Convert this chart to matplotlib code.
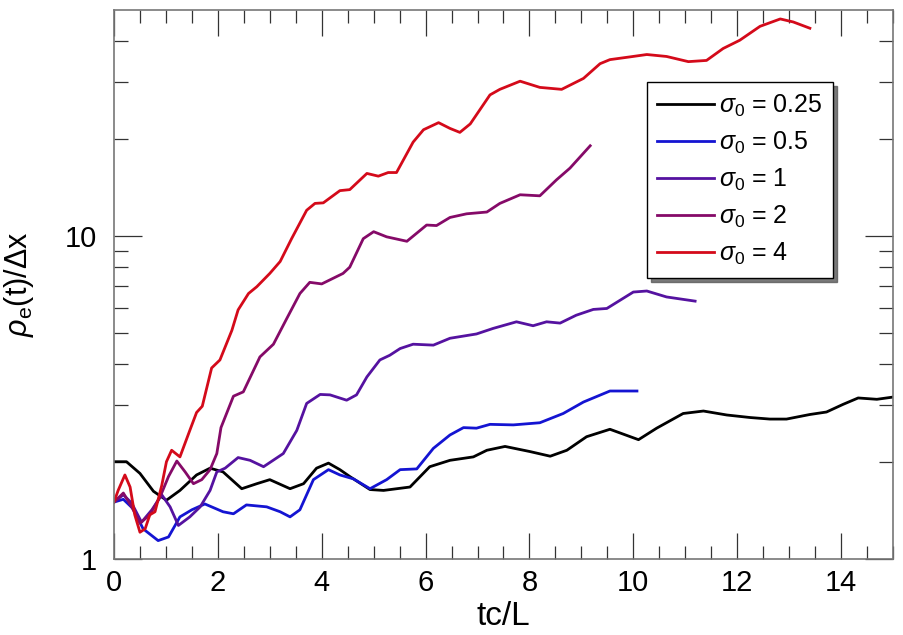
import matplotlib
matplotlib.use("Agg")
import matplotlib.pyplot as plt
from matplotlib.ticker import FixedLocator, NullFormatter, FixedFormatter, MultipleLocator

plt.rcParams["font.family"] = ["Liberation Sans", "DejaVu Sans"]
plt.rcParams["mathtext.fontset"] = "custom"
plt.rcParams["mathtext.rm"] = "Liberation Sans"
plt.rcParams["mathtext.it"] = "Liberation Sans:italic"

# --- data (tc/L, rho_e/dx) ---
t_025 = [0, 0.24, 0.5, 0.76, 1.01, 1.27, 1.59, 1.85, 2.1, 2.46, 2.75, 3.0, 3.39, 3.65, 3.9,
         4.13, 4.35, 4.54, 4.93, 5.19, 5.7, 6.08, 6.47, 6.92, 7.18, 7.53, 8.01, 8.4, 8.72, 9.1,
         9.55, 10.1, 10.45, 10.96, 11.35, 11.8, 12.25, 12.63, 12.95, 13.4, 13.72, 14.04, 14.33,
         14.69, 15.0]
r_025 = [2.0, 2.0, 1.84, 1.62, 1.52, 1.63, 1.82, 1.91, 1.86, 1.65, 1.71, 1.76, 1.65, 1.71, 1.91,
         1.98, 1.89, 1.8, 1.64, 1.63, 1.67, 1.93, 2.02, 2.07, 2.17, 2.23, 2.15, 2.08, 2.17, 2.39,
         2.52, 2.34, 2.54, 2.82, 2.87, 2.79, 2.74, 2.71, 2.71, 2.8, 2.85, 3.01, 3.15, 3.12, 3.17]

t_05 = [0, 0.18, 0.37, 0.56, 0.85, 1.05, 1.27, 1.5, 1.75, 2.1, 2.3, 2.55, 2.94, 3.2, 3.39, 3.58,
        3.84, 4.13, 4.35, 4.61, 4.93, 5.25, 5.51, 5.83, 6.15, 6.47, 6.73, 6.98, 7.24, 7.69, 8.2,
        8.65, 9.04, 9.55, 10.07]
r_05 = [1.5, 1.53, 1.43, 1.24, 1.14, 1.17, 1.35, 1.42, 1.48, 1.4, 1.38, 1.47, 1.45, 1.4, 1.35,
        1.42, 1.76, 1.89, 1.82, 1.77, 1.65, 1.76, 1.89, 1.9, 2.2, 2.42, 2.55, 2.54, 2.61, 2.6,
        2.64, 2.82, 3.06, 3.31, 3.31]

t_1 = [0, 0.18, 0.34, 0.53, 0.73, 0.92, 1.08, 1.24, 1.46, 1.66, 1.85, 1.98, 2.14, 2.39, 2.62,
       2.88, 3.26, 3.52, 3.71, 3.97, 4.16, 4.48, 4.67, 4.87, 5.12, 5.31, 5.51, 5.76, 6.15, 6.47,
       6.98, 7.3, 7.75, 8.07, 8.33, 8.59, 8.9, 9.23, 9.49, 10.0, 10.26, 10.64, 11.19]
r_1 = [1.5, 1.58, 1.49, 1.3, 1.42, 1.58, 1.45, 1.27, 1.35, 1.45, 1.63, 1.86, 1.91, 2.06, 2.02,
       1.93, 2.12, 2.5, 3.03, 3.23, 3.22, 3.1, 3.22, 3.66, 4.13, 4.27, 4.48, 4.62, 4.59, 4.82,
       4.97, 5.17, 5.42, 5.27, 5.42, 5.37, 5.68, 5.92, 5.96, 6.7, 6.75, 6.47, 6.28]

t_2 = [0, 0.18, 0.34, 0.5, 0.69, 0.89, 1.05, 1.21, 1.37, 1.53, 1.69, 1.85, 1.98, 2.06, 2.3,
       2.49, 2.81, 3.07, 3.33, 3.58, 3.77, 4.0, 4.41, 4.54, 4.8, 5.0, 5.25, 5.64, 6.02, 6.21,
       6.47, 6.79, 7.18, 7.43, 7.82, 8.2, 8.52, 8.78, 9.17]
r_2 = [1.5, 1.6, 1.45, 1.29, 1.37, 1.56, 1.8, 2.01, 1.86, 1.71, 1.76, 1.89, 2.12, 2.55, 3.19,
       3.29, 4.22, 4.62, 5.56, 6.63, 7.18, 7.1, 7.65, 8.0, 9.8, 10.3, 9.93, 9.62, 10.8, 10.76,
       11.4, 11.7, 11.85, 12.6, 13.4, 13.3, 14.9, 16.2, 19.0]

t_4 = [0, 0.08, 0.21, 0.31, 0.4, 0.5, 0.6, 0.69, 0.79, 0.92, 1.01, 1.11, 1.27, 1.46, 1.59, 1.7,
       1.88, 2.04, 2.27, 2.39, 2.59, 2.75, 3.0, 3.2, 3.42, 3.71, 3.87, 4.03, 4.35, 4.54, 4.87,
       5.09, 5.28, 5.44, 5.76, 5.96, 6.25, 6.47, 6.66, 6.86, 7.24, 7.43, 7.82, 8.2, 8.62, 9.04,
       9.36, 9.55, 9.94, 10.26, 10.64, 11.06, 11.41, 11.73, 12.05, 12.44, 12.83, 13.08, 13.4]
r_4 = [1.5, 1.63, 1.82, 1.67, 1.37, 1.21, 1.24, 1.37, 1.4, 1.69, 2.0, 2.17, 2.07, 2.5, 2.84,
       2.97, 3.9, 4.13, 5.1, 5.9, 6.63, 6.96, 7.65, 8.33, 9.8, 12.0, 12.6, 12.65, 13.8, 13.9,
       15.6, 15.3, 15.7, 15.7, 19.5, 21.3, 22.4, 21.5, 20.9, 22.2, 27.3, 28.4, 30.1, 28.8, 28.4,
       30.7, 34.1, 35.1, 35.8, 36.4, 35.9, 34.6, 34.9, 38.0, 40.3, 44.5, 46.9, 45.9, 43.9]

labels = [r"$\sigma_0$ = 0.25", r"$\sigma_0$ = 0.5", r"$\sigma_0$ = 1",
          r"$\sigma_0$ = 2", r"$\sigma_0$ = 4"]
colors = ["#000000", "#1414d2", "#5512a0", "#850a68", "#d40a1a"]
series = [(t_025, r_025), (t_05, r_05), (t_1, r_1), (t_2, r_2), (t_4, r_4)]

fig = plt.figure(figsize=(9.04, 6.35), dpi=100)
ax = fig.add_axes([0.1261, 0.1197, 0.8617, 0.8646])

for (t, r), c, lab in zip(series, colors, labels):
    ax.plot(t, r, color=c, lw=2.0, label=lab, solid_joinstyle="round")

ax.set_yscale("log")
ax.set_xlim(0, 15)
ax.set_ylim(1, 50)

ax.xaxis.set_major_locator(MultipleLocator(2))
ax.xaxis.set_minor_locator(MultipleLocator(0.5))
ax.yaxis.set_major_locator(FixedLocator([1, 10]))
ax.yaxis.set_major_formatter(FixedFormatter(["1", "10"]))
ax.yaxis.set_minor_locator(FixedLocator([2, 3, 4, 5, 6, 7, 8, 9, 20, 30, 40]))
ax.yaxis.set_minor_formatter(NullFormatter())

for s in ax.spines.values():
    s.set_color("#777777")
    s.set_linewidth(1.2)
ax.tick_params(which="both", direction="in", top=True, right=True, color="#333333", width=0.9)
ax.tick_params(axis="x", which="major", length=19, labelsize=21, pad=7)
ax.tick_params(axis="x", which="minor", length=9.5)
ax.tick_params(axis="y", which="major", length=20, labelsize=21, pad=12)
ax.tick_params(axis="y", which="minor", length=10)

ax.set_xlabel("tc/L", fontsize=24, labelpad=3)
ax.set_ylabel(r"$\rho_\mathrm{e}$(t)/Δx", fontsize=22, labelpad=21)

leg = ax.legend(loc="upper left", bbox_to_anchor=(0.684, 0.869), borderaxespad=0,
                fontsize=18, frameon=True, fancybox=False, handlelength=2.25,
                handletextpad=0.2, labelspacing=0.44, borderpad=0.42,
                shadow={"ox": 3, "oy": -3, "color": "0.35", "alpha": 0.8})
leg.get_frame().set_edgecolor("black")
leg.get_frame().set_linewidth(1.0)
for line in leg.get_lines():
    line.set_linewidth(2.0)

fig.savefig("out.png", dpi=100, facecolor="white")
